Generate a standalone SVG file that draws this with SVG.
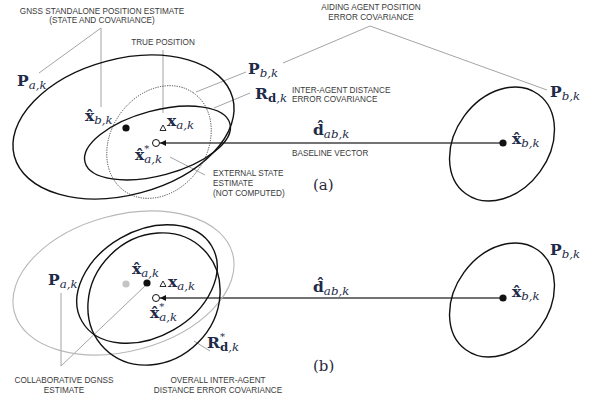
<svg xmlns="http://www.w3.org/2000/svg" width="590" height="395" viewBox="0 0 590 395">
<defs>
<marker id="ah" viewBox="0 0 10 10" refX="10" refY="5" markerWidth="7" markerHeight="6" orient="auto" markerUnits="userSpaceOnUse">
<path d="M0,0 L10,5 L0,10 z" fill="#111"/>
</marker>
</defs>
<style>
.el{fill:none;stroke:#111;stroke-width:1.4}
.dot{fill:none;stroke:#444;stroke-width:0.9;stroke-dasharray:1.2 1.2}
.gr{fill:none;stroke:#b8b8b8;stroke-width:1.1}
.ld{fill:none;stroke:#9a9a9a;stroke-width:0.9}
.bl{stroke:#444;stroke-width:1.3;fill:none}
.lab{font-family:"Liberation Sans",Arial,sans-serif;font-size:8.2px;fill:#3a3a3a}
.m{font-family:"DejaVu Serif","Liberation Serif",serif;font-size:15.5px;fill:#1e2b48;font-weight:bold}
.s{font-size:11.8px;font-style:italic;font-weight:normal}
.sb{font-size:11.8px;font-style:normal;font-weight:bold}
.st{font-size:10px;font-weight:normal}
.cap{font-family:"DejaVu Serif","Liberation Serif",serif;font-size:15px;fill:#2a2a3a}
</style>

<g id="connectors">
<polyline class="ld" points="39,73 101,28 101,107"/>
<line class="ld" x1="163" y1="50" x2="163" y2="113"/>
<line class="ld" x1="196" y1="92" x2="246" y2="72"/>
<line class="ld" x1="214" y1="108" x2="250" y2="93"/>
<polyline class="ld" points="283,63 370,26 547,90"/>
<line class="ld" x1="170" y1="157" x2="205" y2="175"/>
<polyline class="ld" points="61,293 61,366 145,286"/>
<line class="ld" x1="194" y1="341" x2="210" y2="351"/>
<line class="bl" x1="503" y1="143" x2="160" y2="143" marker-end="url(#ah)"/>
<line class="bl" x1="503" y1="298" x2="160" y2="298" marker-end="url(#ah)"/>
</g>

<g id="panel-a">
<g id="cov-Pa-a"><ellipse class="el" cx="123.5" cy="127" rx="113" ry="68" transform="rotate(-15 123.5 127)"/></g>
<g id="cov-Pb-dotted-a"><ellipse class="dot" cx="159" cy="142" rx="60" ry="48" transform="rotate(-55 159 142)"/></g>
<g id="cov-Rd-a"><ellipse class="el" cx="157.5" cy="143" rx="75" ry="32.5" transform="rotate(-15 157.5 143)"/></g>
<g id="cov-Pb-right-a"><ellipse class="el" cx="502" cy="144" rx="61.5" ry="47" transform="rotate(-54 502 144)"/></g>
<g id="est-a"><circle cx="126" cy="128" r="3.6" fill="#111"/></g>
<g id="true-a"><path d="M160,130.5 L166,130.5 L163,125 z" fill="#fff" stroke="#111" stroke-width="0.9"/></g>
<g id="ext-a"><circle cx="156" cy="143" r="3.5" fill="#fff" stroke="#111" stroke-width="1"/></g>
<g id="agentb-a"><circle cx="503" cy="143" r="3.6" fill="#111"/></g>

<text class="lab" text-anchor="middle" x="102" y="13.7">GNSS STANDALONE POSITION ESTIMATE</text>
<text class="lab" text-anchor="middle" x="102" y="23">(STATE AND COVARIANCE)</text>
<text class="lab" text-anchor="middle" x="163" y="44.7">TRUE POSITION</text>
<text class="lab" text-anchor="middle" x="371" y="10.3">AIDING AGENT POSITION</text>
<text class="lab" text-anchor="middle" x="371" y="20.3">ERROR COVARIANCE</text>
<text class="lab" x="292" y="93">INTER-AGENT DISTANCE</text>
<text class="lab" x="292" y="102.3">ERROR COVARIANCE</text>
<text class="lab" x="292" y="156.3">BASELINE VECTOR</text>
<text class="lab" x="213" y="176">EXTERNAL STATE</text>
<text class="lab" x="213" y="186">ESTIMATE</text>
<text class="lab" x="213" y="196">(NOT COMPUTED)</text>

<text class="m" x="17" y="86">P<tspan class="s" dy="3">a,k</tspan></text>
<text class="m" x="85" y="121">x̂<tspan class="s" dy="3">b,k</tspan></text>
<text class="m" x="167" y="126">x<tspan class="s" dy="3">a,k</tspan></text>
<text class="m" x="135" y="160">x̂<tspan class="st" dy="-8">*</tspan><tspan class="s" dx="-5" dy="11">a,k</tspan></text>
<text class="m" x="248" y="74">P<tspan class="s" dy="3">b,k</tspan></text>
<text class="m" x="255" y="99">R<tspan class="sb" dy="3">d</tspan><tspan class="s">,k</tspan></text>
<text class="m" x="313" y="135">d̂<tspan class="s" dy="3">ab,k</tspan></text>
<text class="m" x="512" y="144">x̂<tspan class="s" dy="3">b,k</tspan></text>
<text class="m" x="550" y="97">P<tspan class="s" dy="3">b,k</tspan></text>
<text class="cap" x="313" y="190">(a)</text>
</g>

<g id="panel-b">
<g id="cov-Pa-b"><ellipse class="gr" cx="123.5" cy="283" rx="113" ry="68" transform="rotate(-15 123.5 283)"/></g>
<g id="cov-A-b"><ellipse class="el" cx="147" cy="284" rx="75" ry="53" transform="rotate(-30 147 284)"/></g>
<g id="cov-Rstar-b"><ellipse class="el" cx="154" cy="299" rx="70" ry="62" transform="rotate(-45 154 299)"/></g>
<g id="cov-Pb-right-b"><ellipse class="el" cx="502" cy="300" rx="61.5" ry="47" transform="rotate(-54 502 300)"/></g>
<g id="gnss-b"><circle cx="126" cy="284" r="3.6" fill="#c4c4c4"/></g>
<g id="est-b"><circle cx="147" cy="283" r="3.6" fill="#111"/></g>
<g id="true-b"><path d="M160,286.5 L166,286.5 L163,281 z" fill="#fff" stroke="#111" stroke-width="0.9"/></g>
<g id="ext-b"><circle cx="156" cy="298" r="3.5" fill="#fff" stroke="#111" stroke-width="1"/></g>
<g id="agentb-b"><circle cx="503" cy="298" r="3.6" fill="#111"/></g>

<text class="lab" text-anchor="middle" x="64" y="382.5">COLLABORATIVE DGNSS</text>
<text class="lab" text-anchor="middle" x="64" y="392.5">ESTIMATE</text>
<text class="lab" text-anchor="middle" x="218" y="382.5">OVERALL INTER-AGENT</text>
<text class="lab" text-anchor="middle" x="218" y="392.5">DISTANCE ERROR COVARIANCE</text>

<text class="m" x="48" y="285">P<tspan class="s" dy="3">a,k</tspan></text>
<text class="m" x="132" y="274">x̂<tspan class="s" dy="3">a,k</tspan></text>
<text class="m" x="168" y="287">x<tspan class="s" dy="3">a,k</tspan></text>
<text class="m" x="150" y="318">x̂<tspan class="st" dy="-8">*</tspan><tspan class="s" dx="-5" dy="11">a,k</tspan></text>
<text class="m" x="207" y="348">R<tspan class="st" dy="-8">*</tspan><tspan class="sb" dx="-5" dy="11">d</tspan><tspan class="s">,k</tspan></text>
<text class="m" x="313" y="292">d̂<tspan class="s" dy="3">ab,k</tspan></text>
<text class="m" x="512" y="297">x̂<tspan class="s" dy="3">b,k</tspan></text>
<text class="m" x="550" y="255">P<tspan class="s" dy="3">b,k</tspan></text>
<text class="cap" x="313" y="371">(b)</text>
</g>
</svg>
